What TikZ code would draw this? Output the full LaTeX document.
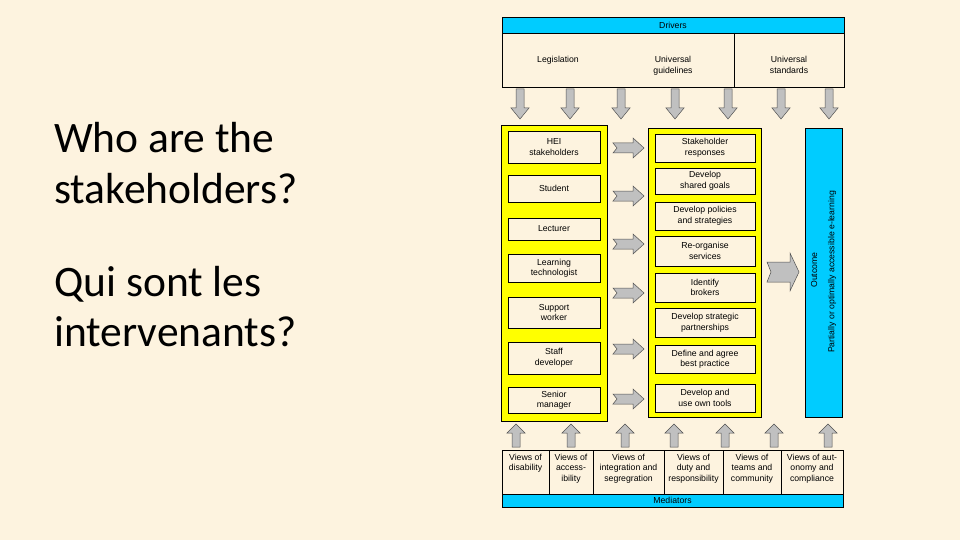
\documentclass[tikz,border=0pt]{standalone}
\usepackage{fontspec}
\setmainfont{Carlito}
\newfontfamily\arialf{Liberation Sans}
\definecolor{bg}{HTML}{FDF3DF}
\definecolor{ylw}{HTML}{FFFF00}
\definecolor{cyn}{HTML}{00CCFF}
\definecolor{agray}{HTML}{C0C0C0}
\definecolor{aline}{HTML}{505050}
\begin{document}
\begin{tikzpicture}[x=1pt,y=-1pt,
  lbl/.style={font=\arialf\fontsize{8.7}{10.5}\selectfont, align=center, inner sep=0pt, text=black},
  rect/.style={draw=black, line width=0.6pt, inner sep=0pt, outer sep=0pt},
  ibox/.style={rect, lbl, fill=bg},
  ybox/.style={rect, fill=ylw},
  cbox/.style={rect, lbl, fill=cyn},
  ttl/.style={font=\fontsize{43.5}{50}\selectfont, anchor=base west, inner sep=0pt, text=black},
  arrowfill/.style={fill=agray, draw=aline, line width=0.5pt, line join=miter},
  darr/.pic={\draw[arrowfill] (-4,0) -- (4,0) -- (4,19) -- (9,19) -- (0,30) -- (-9,19) -- (-4,19) -- cycle;},
  uarr/.pic={\draw[arrowfill] (0,0) -- (9,9) -- (4,9) -- (4,23) -- (-4,23) -- (-4,9) -- (-9,9) -- cycle;},
  rarr/.pic={\draw[arrowfill] (0,-5) -- (20,-5) -- (20,-10) -- (31,0) -- (20,10) -- (20,5) -- (0,5) -- (4,0) -- cycle;},
  bigarr/.pic={\draw[arrowfill] (0,-10) -- (23,-10) -- (23,-19) -- (32,0) -- (23,19) -- (23,10) -- (0,10) -- (4,0) -- cycle;}
]
\useasboundingbox (0,0) rectangle (960,540);
\fill[bg] (0,0) rectangle (960,540);

% Title texts
\node[ttl] (t1) at (54,153) {Who are the};
\node[ttl] (t2) at (54,204) {stakeholders?};
\node[ttl] (t3) at (54,296) {Qui sont les};
\node[ttl] (t4) at (54,346) {intervenants?};

% Drivers
\node[cbox, minimum width=342pt, minimum height=16pt] (drivers) at (673,25) {Drivers};
\node[rect, fill=bg, minimum width=342pt, minimum height=54pt] (drvbox) at (673,60) {};
\draw[line width=0.6pt] (734,33) -- (734,87);
\node[lbl, anchor=north] (legis) at (558,56) {Legislation};
\node[lbl, anchor=north] (uguide) at (673,56) {Universal\\guidelines};
\node[lbl, anchor=north] (ustand) at (789,56) {Universal\\standards};

% Down arrows
\foreach \cx in {520,570,621,675,728,781,829} { \pic at (\cx,89) {darr}; }

% Left column
\node[ybox, minimum width=106pt, minimum height=296pt] (lcol) at (554,273) {};
\node[ibox, minimum width=92pt, minimum height=32pt] (hei) at (554,147) {HEI\\stakeholders};
\node[ibox, minimum width=92pt, minimum height=27pt] (student) at (554,188.5) {Student};
\node[ibox, minimum width=92pt, minimum height=22pt] (lecturer) at (554,229) {Lecturer};
\node[ibox, minimum width=92pt, minimum height=28pt] (learntech) at (554,268) {Learning\\technologist};
\node[ibox, minimum width=92pt, minimum height=31pt] (support) at (554,312.5) {Support\\worker};
\node[ibox, minimum width=92pt, minimum height=32pt] (staffdev) at (554,358) {Staff\\developer};
\node[ibox, minimum width=92pt, minimum height=26pt] (senior) at (554,400) {Senior\\manager};

% Right arrows
\foreach \cy in {148,196,244,293,349,399} { \pic at (613,\cy) {rarr}; }

% Middle column
\node[ybox, minimum width=113pt, minimum height=289pt] (mcol) at (704.5,272.5) {};
\node[ibox, minimum width=100pt, minimum height=28pt] (resp) at (705,148) {Stakeholder\\responses};
\node[ibox, minimum width=100pt, minimum height=26pt] (goals) at (705,181) {Develop\\shared goals};
\node[ibox, minimum width=100pt, minimum height=28pt] (policies) at (705,216) {Develop policies\\and strategies};
\node[ibox, minimum width=100pt, minimum height=30pt] (reorg) at (705,251) {Re-organise\\services};
\node[ibox, minimum width=100pt, minimum height=29pt] (brokers) at (705,287.5) {Identify\\brokers};
\node[ibox, minimum width=100pt, minimum height=29pt] (partner) at (705,322.5) {Develop strategic\\partnerships};
\node[ibox, minimum width=100pt, minimum height=28pt] (practice) at (705,359) {Define and agree\\best practice};
\node[ibox, minimum width=100pt, minimum height=28pt] (tools) at (705,398) {Develop and\\use own tools};

% Big arrow
\pic at (767,272) {bigarr};

% Outcome
\node[rect, fill=cyn, minimum width=37pt, minimum height=289pt] (outcome) at (823.5,272.5) {};
\node[lbl, rotate=90] (outlbl) at (814,270) {Outcome};
\node[lbl, rotate=90] (outtxt) at (832,272) {Partially or optimally accessible e-learning};

% Up arrows
\foreach \cx in {516,571,625,674,725,774,828} { \pic at (\cx,424) {uarr}; }

% Mediators
\node[rect, fill=bg, minimum width=341pt, minimum height=44pt] (medbox) at (672.5,472) {};
\node[cbox, minimum width=341pt, minimum height=13pt] (mediators) at (672.5,500.5) {Mediators};
\foreach \dx in {549,593,664,723,781} { \draw[line width=0.6pt] (\dx,450) -- (\dx,494); }
\node[lbl, anchor=north] (v1) at (525.5,453.5) {Views of\\disability};
\node[lbl, anchor=north] (v2) at (571,453.5) {Views of\\access-\\ibility};
\node[lbl, anchor=north] (v3) at (628.5,453.5) {Views of\\integration and\\segregration};
\node[lbl, anchor=north] (v4) at (693.5,453.5) {Views of\\duty and\\responsibility};
\node[lbl, anchor=north] (v5) at (752,453.5) {Views of\\teams and\\community};
\node[lbl, anchor=north] (v6) at (812,453.5) {Views of aut-\\onomy and\\compliance};
\end{tikzpicture}
\end{document}
